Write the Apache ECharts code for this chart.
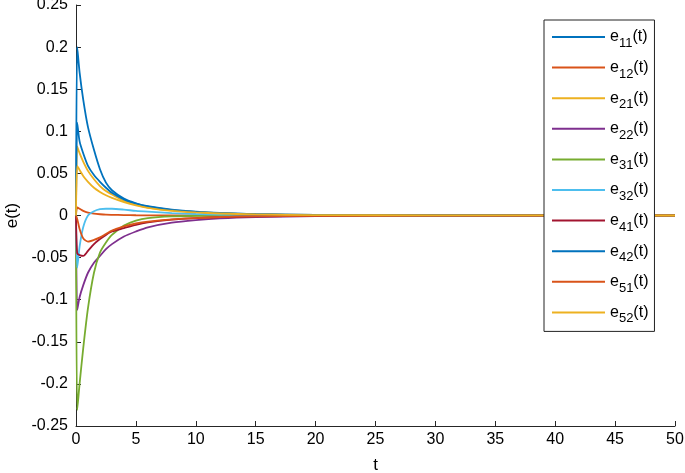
<!DOCTYPE html>
<html>
<head>
<meta charset="utf-8">
<script src="https://cdn.jsdelivr.net/npm/echarts@6/dist/echarts.min.js"></script>
<style>
  html, body { margin: 0; padding: 0; background: #fff; }
  #chart { width: 685px; height: 473px; }
</style>
</head>
<body>
<div id="chart"></div>
<script>
// sample times (t)
var tVals = [0, 0.1, 0.3, 0.6, 1, 1.5, 2, 2.5, 3, 4, 5, 6, 8, 10, 12, 15, 20, 30, 40, 50];

// error curves
var e11 = [0, 0.2, 0.17, 0.138, 0.105, 0.078, 0.055, 0.039, 0.03, 0.02, 0.0145, 0.011, 0.007, 0.0045, 0.003, 0.0017, 0.0007, 0.0002, 0.0001, 0];
var e12 = [0, 0.0095, 0.008, 0.0055, 0.0035, 0.0022, 0.0015, 0.001, 0.0008, 0.0005, 0.0003, 0.0002, 0.0001, 0, 0, 0, 0, 0, 0, 0];
var e21 = [0, 0.082, 0.074, 0.064, 0.053, 0.043, 0.035, 0.029, 0.025, 0.0175, 0.013, 0.0095, 0.006, 0.004, 0.0027, 0.0015, 0.0006, 0.0002, 0.0001, 0];
var e22 = [0, -0.112, -0.097, -0.083, -0.068, -0.056, -0.048, -0.04, -0.034, -0.025, -0.019, -0.014, -0.0085, -0.0055, -0.0035, -0.002, -0.0008, -0.0002, -0.0001, 0];
var e31 = [0, -0.231, -0.2, -0.158, -0.11, -0.068, -0.044, -0.032, -0.023, -0.012, -0.006, -0.003, -0.001, -0.0005, -0.0002, 0, 0, 0, 0, 0];
var e32 = [0, -0.062, -0.037, -0.014, 0, 0.005, 0.0075, 0.008, 0.008, 0.007, 0.0055, 0.0045, 0.0028, 0.0018, 0.0012, 0.0006, 0.0002, 0.0001, 0, 0];
var e41 = [0, -0.045, -0.047, -0.048, -0.042, -0.034, -0.028, -0.023, -0.019, -0.015, -0.011, -0.0082, -0.005, -0.0032, -0.002, -0.0011, -0.0004, -0.0001, 0, 0];
var e42 = [0, 0.11, 0.088, 0.074, 0.059, 0.048, 0.04, 0.033, 0.027, 0.019, 0.014, 0.0105, 0.0065, 0.0043, 0.0028, 0.0016, 0.0006, 0.0002, 0.0001, 0];
var e51 = [0, -0.004, -0.016, -0.027, -0.031, -0.029, -0.026, -0.022, -0.018, -0.013, -0.0095, -0.0072, -0.0045, -0.003, -0.0018, -0.001, -0.0004, -0.0001, 0, 0];
var e52 = [0, 0.059, 0.054, 0.047, 0.04, 0.033, 0.028, 0.024, 0.021, 0.016, 0.012, 0.009, 0.0055, 0.0036, 0.0024, 0.0013, 0.0005, 0.0002, 0.0001, 0];

var subs = ['11', '12', '21', '22', '31', '32', '41', '42', '51', '52'];
var curves = [e11, e12, e21, e22, e31, e32, e41, e42, e51, e52];
var colors = ['#0072BD', '#D95319', '#EDB120', '#7E2F8E', '#77AC30', '#4DBEEE', '#A2142F', '#0072BD', '#D95319', '#EDB120'];

var myChart = echarts.init(document.getElementById('chart'));

var series = subs.map(function (s, i) {
	return {
		name: 'e' + s,
		type: 'line',
		data: tVals.map(function (t, k) { return [t, curves[i][k]]; }),
		showSymbol: false,
		smooth: 0.25,
		lineStyle: { width: 1.8, color: colors[i] },
		itemStyle: { color: colors[i] }
	};
});

var axisCol = '#262626';
var option = {
	animation: false,
	backgroundColor: '#fff',
	textStyle: { fontFamily: 'Liberation Sans, Arial, sans-serif' },
	grid: { left: 76, right: 10, top: 5, bottom: 47, containLabel: false, outerBoundsMode: 'none' },
	legend: {
		orient: 'vertical',
		left: 544,
		top: 20,
		padding: [7, 6, 6, 8],
		itemGap: 7.6,
		itemWidth: 53,
		itemHeight: 2,
		icon: 'rect',
		borderColor: '#222',
		borderWidth: 1,
		backgroundColor: '#fff',
		data: subs.map(function (s) { return 'e' + s; }),
		formatter: function (name) {
			return 'e{s|' + name.slice(1) + '}(t)';
		},
		textStyle: {
			color: '#000',
			fontSize: 16,
			lineHeight: 20,
			rich: {
				s: { fontSize: 13, lineHeight: 20, verticalAlign: 'bottom', padding: [0, 0, -3, 0] }
			}
		}
	},
	xAxis: {
		type: 'value',
		min: 0,
		max: 50,
		interval: 5,
		name: 't',
		nameLocation: 'middle',
		nameGap: 31,
		nameTextStyle: { color: '#000', fontSize: 17 },
		axisLine: { onZero: false, lineStyle: { color: axisCol, width: 1 } },
		axisTick: { inside: true, length: 5, lineStyle: { color: axisCol } },
		axisLabel: { color: '#000', fontSize: 16, margin: 6 },
		splitLine: { show: false }
	},
	yAxis: {
		type: 'value',
		min: -0.25,
		max: 0.25,
		interval: 0.05,
		name: 'e(t)',
		nameLocation: 'middle',
		nameGap: 55,
		nameRotate: 90,
		nameTextStyle: { color: '#000', fontSize: 17 },
		axisLine: { show: true, onZero: false, lineStyle: { color: axisCol, width: 1 } },
		axisTick: { show: true, inside: true, length: 5, lineStyle: { color: axisCol } },
		axisLabel: {
			color: '#000',
			fontSize: 16,
			margin: 8,
			formatter: function (v) { return String(+v.toFixed(2)); }
		},
		splitLine: { show: false }
	},
	series: series
};
myChart.setOption(option);
</script>
</body>
</html>
